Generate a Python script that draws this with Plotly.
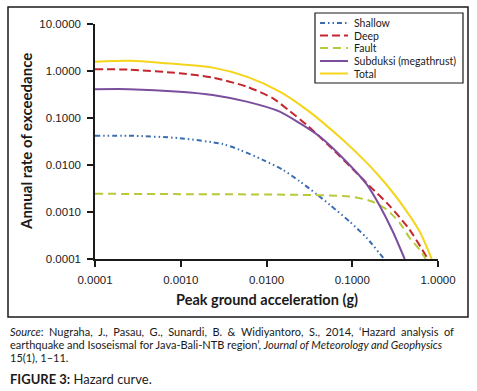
import plotly.graph_objects as go

# ---------------- data ----------------
shallow_x = [0.0001, 0.00025, 0.00097, 0.00311, 0.00487, 0.00904, 0.0155, 0.0244, 0.0385, 0.0548, 0.0933, 0.1476, 0.235]
shallow_y = [0.0417, 0.042, 0.0372, 0.0278, 0.021, 0.0129, 0.0079, 0.00449, 0.00239, 0.00142, 0.000624, 0.00028, 0.0001]

deep_x = [0.0001, 0.00025, 0.00097, 0.00236, 0.00588, 0.0118, 0.0186, 0.0294, 0.0417, 0.0592, 0.101, 0.160, 0.273, 0.468, 0.738]
deep_y = [1.09, 1.07, 0.896, 0.723, 0.465, 0.264, 0.141, 0.0714, 0.0398, 0.0216, 0.00822, 0.00355, 0.00135, 0.000417, 0.00011]

fault_x = [0.0001, 0.001, 0.0244, 0.0933, 0.1476, 0.174, 0.2527, 0.357, 0.468, 0.611, 0.72]
fault_y = [0.00244, 0.0024, 0.00232, 0.00214, 0.00182, 0.00165, 0.00112, 0.00059, 0.00028, 0.000158, 0.0001]

subduksi_x = [0.0001, 0.00025, 0.00097, 0.00236, 0.00588, 0.01426, 0.0244, 0.0417, 0.0775, 0.1476, 0.209, 0.296, 0.409]
subduksi_y = [0.409, 0.41, 0.364, 0.31, 0.223, 0.137, 0.0776, 0.0403, 0.0141, 0.00387, 0.00136, 0.00039, 0.0001]

total_x = [0.0001, 0.00025, 0.00097, 0.00236, 0.00588, 0.01426, 0.0294, 0.0417, 0.0775, 0.148, 0.193, 0.251, 0.387, 0.611, 0.844]
total_y = [1.58, 1.66, 1.39, 1.18, 0.76, 0.364, 0.151, 0.0912, 0.0343, 0.0111, 0.00659, 0.0038, 0.00137, 0.000384, 0.0001]

series_names = ["Shallow", "Deep", "Fault", "Subduksi (megathrust)", "Total"]

x_tickvals = [0.0001, 0.001, 0.01, 0.1, 1]
x_ticktext = ["0.0001", "0.0010", "0.0100", "0.1000", "1.0000"]
y_tickvals = [10, 1, 0.1, 0.01, 0.001, 0.0001]
y_ticktext = ["10.0000", "1.0000", "0.1000", "0.0100", "0.0010", "0.0001"]

x_title = "Peak ground acceleration (g)"
y_title = "Annual rate of exceedance"
source_lines = [
    "<i>Source</i>: Nugraha, J., Pasau, G., Sunardi, B. &amp; Widiyantoro, S., 2014, \u2018Hazard analysis of",
    "earthquake and Isoseismal for Java-Bali-NTB region\u2019, <i>Journal of Meteorology and Geophysics</i>",
    "15(1), 1\u201311.",
]
figure_caption = "<b>FIGURE 3:</b> Hazard curve."

# ---------------- styles ----------------
colors = ["#3a6db0", "#c4262e", "#b9c93a", "#7a4e9c", "#f5d41c"]
dashes = ["5px,3px,1.5px,3px,1.5px,3px", "8px,4px", "8px,5px", "solid", "solid"]
widths = [2, 2, 2, 2, 2]
# first source line is justified in the reference: widen its word gaps
justify = [True, False, False]

W, H = 477, 391
L, R, T, B = 95, 39, 24, 132
PW, PH = W - L - R, H - T - B


def fx(px):
    return (px - L) / PW


def fy(py):
    return (H - B - py) / PH


fig = go.Figure()
data = [(shallow_x, shallow_y), (deep_x, deep_y), (fault_x, fault_y),
        (subduksi_x, subduksi_y), (total_x, total_y)]
for (xs, ys), name, c, d, w in zip(data, series_names, colors, dashes, widths):
    fig.add_trace(go.Scatter(x=xs, y=ys, mode="lines", name=name,
                             line=dict(color=c, dash=d, width=w, shape="spline", smoothing=0.7),
                             showlegend=False))

tickfont = dict(family="Liberation Sans, Arial, sans-serif", size=11.5, color="#1a1a1a")
fig.update_xaxes(type="log", range=[-4, 0], tickvals=x_tickvals, ticktext=x_ticktext,
                 showgrid=False, zeroline=False, showline=True, linecolor="#1a1a1a", linewidth=1.5,
                 ticks="outside", ticklen=6, tickwidth=1.5, tickcolor="#1a1a1a",
                 tickfont=tickfont, ticklabelstandoff=3)
fig.update_yaxes(type="log", range=[-4, 1], tickvals=y_tickvals, ticktext=y_ticktext,
                 showgrid=False, zeroline=False, showline=True, linecolor="#1a1a1a", linewidth=1.5,
                 ticks="outside", ticklen=6, tickwidth=1.5, tickcolor="#1a1a1a",
                 tickfont=tickfont, ticklabelstandoff=4)

shapes = []
annotations = []
# outer frame of the chart
shapes.append(dict(type="rect", xref="paper", yref="paper", x0=fx(8), x1=fx(468), y0=fy(7), y1=fy(317),
                   line=dict(color="#1a1a1a", width=1.5), fillcolor="rgba(0,0,0,0)", layer="below"))
# legend box
shapes.append(dict(type="rect", xref="paper", yref="paper", x0=fx(315), x1=fx(463), y0=fy(13), y1=fy(83),
                   line=dict(color="#1a1a1a", width=1.2), fillcolor="white", layer="above"))
leg_rows = [23, 35.5, 48, 61, 73.5]
for name, c, d, w, ry in zip(series_names, colors, dashes, widths, leg_rows):
    shapes.append(dict(type="line", xref="paper", yref="paper", x0=fx(320), x1=fx(348), y0=fy(ry), y1=fy(ry),
                       line=dict(color=c, dash=d, width=w), layer="above"))
    annotations.append(dict(text=name, xref="paper", yref="paper", x=fx(352), y=fy(ry),
                            xanchor="left", yanchor="middle", showarrow=False,
                            font=dict(family="Lato, sans-serif", size=10.5, color="#1a1a1a")))

# axis titles
annotations.append(dict(text="<b>" + x_title + "</b>", xref="paper", yref="paper", x=0.5, y=fy(299),
                        xanchor="center", yanchor="middle", showarrow=False,
                        font=dict(family="Lato, sans-serif", size=14.5, color="#1a1a1a")))
annotations.append(dict(text="<b>" + y_title + "</b>", xref="paper", yref="paper", x=fx(25.5), y=0.5,
                        xanchor="center", yanchor="middle", showarrow=False, textangle=-90,
                        font=dict(family="Lato, sans-serif", size=15, color="#1a1a1a")))

# caption
for line, ry, just in zip(source_lines, [331.7, 344.3, 357.3], justify):
    txt = line.replace(" ", "\u2002") if just else line
    annotations.append(dict(text=txt, xref="paper", yref="paper", x=fx(8), y=fy(ry),
                            xanchor="left", yanchor="middle", showarrow=False,
                            font=dict(family="Lato, sans-serif", size=11, color="#1a1a1a")))
annotations.append(dict(text=figure_caption, xref="paper", yref="paper", x=fx(8), y=fy(379),
                        xanchor="left", yanchor="middle", showarrow=False,
                        font=dict(family="Lato, sans-serif", size=13, color="#1a1a1a")))

fig.update_layout(width=W, height=H, margin=dict(l=L, r=R, t=T, b=B),
                  paper_bgcolor="white", plot_bgcolor="white",
                  shapes=shapes, annotations=annotations, showlegend=False)

fig.write_html("out.html", config={"displayModeBar": False},
               post_script="document.body.style.margin='0';document.body.style.overflow='hidden';")
